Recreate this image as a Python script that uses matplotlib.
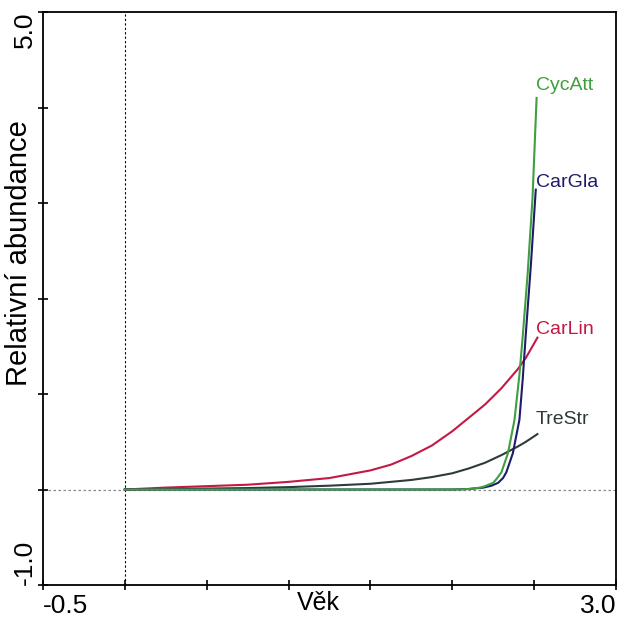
import matplotlib
matplotlib.use("Agg")
import matplotlib.pyplot as plt

plt.rcParams['font.family'] = ['Liberation Sans', 'DejaVu Sans']

# ==== DATA ====
x_axis_ticks = [-0.5, 0.0, 0.5, 1.0, 1.5, 2.0, 2.5, 3.0]
x_tick_labels = ['-0.5', '', '', '', '', '', '', '3.0']
y_axis_ticks = [-1.0, 0.0, 1.0, 2.0, 3.0, 4.0, 5.0]
y_tick_labels = ['-1.0', '', '', '', '', '', '5.0']

carlin_x = [0.0, 0.25, 0.5, 0.75, 1.0, 1.25, 1.5, 1.625, 1.75, 1.875, 2.0,
            2.1, 2.2, 2.3, 2.4, 2.45, 2.52]
carlin_y = [0.0, 0.02, 0.035, 0.05, 0.08, 0.12, 0.20, 0.26, 0.35, 0.46, 0.61,
            0.75, 0.89, 1.06, 1.26, 1.38, 1.59]

trestr_x = [0.0, 0.25, 0.5, 0.75, 1.0, 1.25, 1.5, 1.75, 1.875, 2.0, 2.1,
            2.2, 2.3, 2.4, 2.45, 2.52]
trestr_y = [0.0, 0.005, 0.01, 0.015, 0.025, 0.04, 0.06, 0.10, 0.13, 0.17, 0.22,
            0.28, 0.36, 0.45, 0.50, 0.58]

cycatt_x = [0.0, 1.0, 2.0, 2.1, 2.17, 2.2, 2.25, 2.27, 2.30, 2.34, 2.38,
            2.41, 2.43, 2.46, 2.49, 2.515]
cycatt_y = [0.0, 0.0, 0.0, 0.005, 0.02, 0.035, 0.07, 0.11, 0.18, 0.38, 0.73,
            1.20, 1.60, 2.25, 3.05, 4.10]

cargla_x = [0.0, 1.0, 2.0, 2.1, 2.19, 2.24, 2.28, 2.31, 2.33, 2.37, 2.41,
            2.43, 2.45, 2.48, 2.51]
cargla_y = [0.0, 0.0, 0.0, 0.005, 0.02, 0.04, 0.07, 0.12, 0.18, 0.38, 0.73,
            1.15, 1.65, 2.35, 3.14]

species = ['CycAtt', 'CarGla', 'CarLin', 'TreStr']
label_y = [4.23, 3.21, 1.68, 0.73]
colors = ['#3f9e3f', '#1c1c6a', '#c21a44', '#2e3b3b']

# ==== PLOT ====
fig = plt.figure(figsize=(6.18, 6.21), dpi=100)
ax = fig.add_axes([43 / 618, 1 - 585 / 621, 573 / 618, 573 / 621])

ax.axvline(0, color='black', lw=0.8, ls=(0, (2, 2)), zorder=1)
ax.axhline(0, color='#888888', lw=0.9, ls=(0, (2, 2)), zorder=1)

ax.plot(trestr_x, trestr_y, color=colors[3], lw=1.5)
ax.plot(carlin_x, carlin_y, color=colors[2], lw=1.5)
ax.plot(cargla_x, cargla_y, color=colors[1], lw=1.5)
ax.plot(cycatt_x, cycatt_y, color=colors[0], lw=1.5)

for name, ly, c in zip(species, label_y, colors):
    ax.text(2.51, ly, name, color=c, fontsize=14, ha='left', va='center')

ax.set_xlim(-0.5, 3.0)
ax.set_ylim(-1.0, 5.0)

ax.set_xticks(x_axis_ticks)
ax.set_xticklabels(x_tick_labels, fontsize=19)
ax.set_yticks(y_axis_ticks)
ax.set_yticklabels(y_tick_labels, fontsize=19, rotation=90)
ax.tick_params(direction='inout', length=7, width=1.2)
ax.tick_params(axis='x', pad=3)
ax.tick_params(axis='y', pad=1)

xl = ax.get_xticklabels()
xl[0].set_ha('left')
xl[-1].set_ha('right')
yl = ax.get_yticklabels()
yl[0].set_va('bottom')
yl[-1].set_va('top')

for s in ax.spines.values():
    s.set_linewidth(1.3)

ax.set_xlabel('Věk', fontsize=18)
ax.xaxis.set_label_coords(0.48, -0.01)
ax.set_ylabel('Relativní abundance', fontsize=21)
ax.yaxis.set_label_coords(-0.017, 0.58)

fig.savefig('out.png', dpi=100)
